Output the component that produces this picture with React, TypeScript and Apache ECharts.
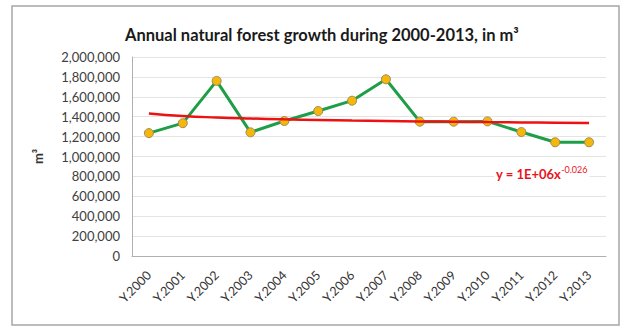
import React, { useEffect, useRef } from "react";
import * as echarts from "echarts";

const years: string[] = [
  "Y.2000", "Y.2001", "Y.2002", "Y.2003", "Y.2004", "Y.2005", "Y.2006",
  "Y.2007", "Y.2008", "Y.2009", "Y.2010", "Y.2011", "Y.2012", "Y.2013",
];
const growth: number[] = [
  1235000, 1335000, 1760000, 1243000, 1357000, 1457000, 1561000,
  1776000, 1350000, 1350000, 1353000, 1246000, 1143000, 1143000,
];
const yTicks = { min: 0, max: 2000000, interval: 200000 };
const titleText = "Annual natural forest growth during 2000-2013, in m³";

// Power trendline (least squares on ln y vs ln x), as the spreadsheet does
function powerFit(vals: number[]): number[] {
  const n = vals.length;
  let sx = 0, sy = 0, sxx = 0, sxy = 0;
  vals.forEach((v, i) => {
    const lx = Math.log(i + 1);
    const ly = Math.log(v);
    sx += lx; sy += ly; sxx += lx * lx; sxy += lx * ly;
  });
  const b = (n * sxy - sx * sy) / (n * sxx - sx * sx);
  const a = Math.exp((sy - b * sx) / n);
  return vals.map((_, i) => a * Math.pow(i + 1, b));
}
const trend = powerFit(growth);

const FONT = "Lato, 'Open Sans', sans-serif";

export default function App() {
  const ref = useRef<HTMLDivElement>(null);
  useEffect(() => {
    document.body.style.margin = "0";
    const chart = echarts.init(ref.current!, null, { renderer: "svg" });
    chart.setOption({
      animation: false,
      backgroundColor: "#ffffff",
      textStyle: { fontFamily: FONT },
      title: {
        text: titleText,
        left: 120,
        top: 21,
        textStyle: { fontFamily: FONT, fontSize: 16.5, fontWeight: "bold", color: "#1a1a1a" },
      },
      grid: { left: 132, right: 15, top: 57, bottom: 71, containLabel: false },
      xAxis: {
        type: "category",
        data: years,
        boundaryGap: true,
        axisLine: { lineStyle: { color: "#b0b0b0", width: 1 } },
        axisTick: { show: false },
        axisLabel: { rotate: 45, margin: 17, fontSize: 12.5, color: "#333", fontFamily: FONT, interval: 0 },
      },
      yAxis: {
        type: "value",
        min: yTicks.min,
        max: yTicks.max,
        interval: yTicks.interval,
        name: "m³",
        nameLocation: "middle",
        nameGap: 88,
        nameRotate: 90,
        nameTextStyle: { fontSize: 13, color: "#333", fontFamily: FONT, fontWeight: "bold" },
        axisLine: { show: true, lineStyle: { color: "#b0b0b0", width: 1 } },
        axisTick: { show: false },
        splitLine: { lineStyle: { color: "#e4e4e4", width: 1 } },
        axisLabel: {
          margin: 12,
          fontSize: 13,
          color: "#404040",
          fontFamily: FONT,
          formatter: (v: number) => v.toLocaleString("en-US"),
        },
      },
      series: [
        {
          name: "Growth",
          type: "line",
          data: growth,
          symbol: "circle",
          symbolSize: 9,
          lineStyle: { color: "#1f9e48", width: 3 },
          itemStyle: { color: "#f5b70a", borderColor: "#9c8a5a", borderWidth: 1 },
          z: 2,
        },
        {
          name: "Trend",
          type: "line",
          data: trend,
          symbol: "none",
          smooth: true,
          lineStyle: { color: "#ee1111", width: 2.5 },
          z: 3,
        },
      ],
      graphic: [
        {
          type: "rect",
          shape: { x: 12, y: 6, width: 607, height: 319 },
          style: { fill: "none", stroke: "#a6a6a6", lineWidth: 1.5 },
          silent: true,
        },
        {
          type: "text",
          x: 494,
          y: 164,
          z: 10,
          style: {
            text: "{m|y = 1E+06x}{s|-0.026}",
            backgroundColor: "#ffffff",
            padding: [1, 2, 1, 2],
            rich: {
              m: { fontSize: 13, fontWeight: "bold", fill: "#e8141e", fontFamily: FONT },
              s: { fontSize: 9, fill: "#e8141e", fontFamily: FONT, verticalAlign: "top", padding: [0, 0, 8, 0] },
            },
          },
        },
      ],
    });
    return () => chart.dispose();
  }, []);
  return <div ref={ref} style={{ width: 621, height: 327 }} />;
}
